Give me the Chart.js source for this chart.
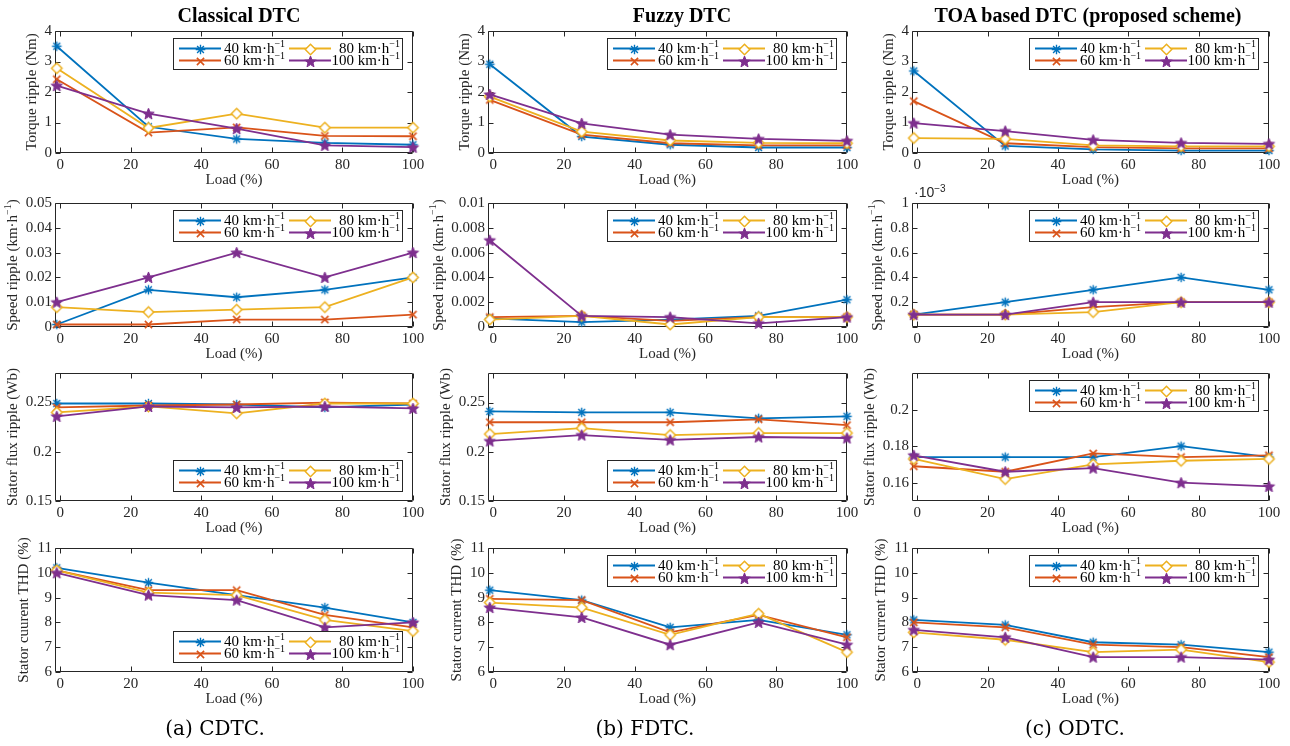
<!DOCTYPE html>
<html>
<head>
<meta charset="utf-8">
<script src="https://cdn.jsdelivr.net/npm/chart.js@4.4.1/dist/chart.umd.min.js"></script>
<style>
  html, body { margin: 0; padding: 0; background: #fff; }
  #wrap { position: relative; width: 1290px; height: 746px; overflow: hidden; background: #fff; }
  #wrap canvas { position: absolute; }
  .ttl { position: absolute; top: 4px; font: bold 20px "Liberation Serif", serif; color: #000; white-space: nowrap; transform: translateX(-50%); line-height: 22px; }
  .cap { position: absolute; top: 716px; font: 20px "DejaVu Serif", serif; color: #000; white-space: nowrap; transform: translateX(-50%); line-height: 24px; }
  .expo { position: absolute; left: 914px; top: 184px; font: 14px "Liberation Sans", sans-serif; color: #262626; white-space: nowrap; line-height: 16px; }
  .expo sup { font-size: 10px; vertical-align: 5px; line-height: 0; }
</style>
</head>
<body>
<div id="wrap"></div>
<script>
// Load levels (%) and vehicle speeds of the four test series
const loads = [-1, 25, 50, 75, 100];
const speedLabels = ['40', '60', '80', '100'];
const schemeTitles = ['Classical DTC', 'Fuzzy DTC', 'TOA based DTC (proposed scheme)'];
const captions = ['(a) CDTC.', '(b) FDTC.', '(c) ODTC.'];

// Torque ripple (Nm); one row per speed: 40, 60, 80, 100 km/h
const torqueCDTC = [[3.5, 0.86, 0.46, 0.33, 0.27], [2.42, 0.67, 0.84, 0.56, 0.55], [2.78, 0.82, 1.29, 0.83, 0.83], [2.21, 1.29, 0.8, 0.25, 0.19]];
const torqueFDTC = [[2.91, 0.54, 0.27, 0.18, 0.18], [1.74, 0.6, 0.32, 0.25, 0.25], [1.85, 0.7, 0.41, 0.33, 0.32], [1.92, 0.97, 0.6, 0.46, 0.4]];
const torqueODTC = [[2.69, 0.23, 0.12, 0.08, 0.08], [1.7, 0.32, 0.19, 0.15, 0.15], [0.49, 0.46, 0.25, 0.22, 0.22], [0.98, 0.72, 0.43, 0.33, 0.3]];

// Speed ripple (km/h)
const speedCDTC = [[0.001, 0.015, 0.012, 0.015, 0.02], [0.001, 0.001, 0.003, 0.003, 0.005], [0.008, 0.006, 0.007, 0.008, 0.02], [0.01, 0.02, 0.03, 0.02, 0.03]];
const speedFDTC = [[0.0007, 0.0004, 0.0006, 0.0009, 0.0022], [0.0008, 0.0009, 0.0005, 0.0008, 0.0008], [0.0006, 0.0009, 0.0002, 0.0008, 0.0008], [0.007, 0.0009, 0.0008, 0.0003, 0.0008]];
const speedODTC = [[0.0001, 0.0002, 0.0003, 0.0004, 0.0003], [0.0001, 0.0001, 0.00016, 0.0002, 0.0002], [0.0001, 0.0001, 0.00012, 0.0002, 0.0002], [0.0001, 0.0001, 0.0002, 0.0002, 0.0002]];

// Stator flux ripple (Wb)
const fluxCDTC = [[0.249, 0.249, 0.248, 0.245, 0.248], [0.245, 0.247, 0.248, 0.25, 0.249], [0.24, 0.246, 0.239, 0.249, 0.249], [0.236, 0.246, 0.245, 0.246, 0.244]];
const fluxFDTC = [[0.241, 0.24, 0.24, 0.234, 0.236], [0.23, 0.23, 0.23, 0.233, 0.227], [0.218, 0.224, 0.217, 0.219, 0.219], [0.211, 0.217, 0.212, 0.215, 0.214]];
const fluxODTC = [[0.174, 0.174, 0.174, 0.18, 0.174], [0.169, 0.166, 0.176, 0.174, 0.175], [0.173, 0.162, 0.17, 0.172, 0.173], [0.175, 0.166, 0.168, 0.16, 0.158]];

// Stator current THD (%)
const thdCDTC = [[10.2, 9.6, 9.1, 8.6, 8.0], [10.1, 9.3, 9.3, 8.3, 7.8], [10.1, 9.2, 9.1, 8.1, 7.65], [10.0, 9.1, 8.9, 7.8, 8.0]];
const thdFDTC = [[9.3, 8.9, 7.8, 8.1, 7.5], [8.95, 8.9, 7.6, 8.3, 7.4], [8.8, 8.6, 7.5, 8.35, 6.8], [8.6, 8.2, 7.1, 8.0, 7.1]];
const thdODTC = [[8.1, 7.9, 7.2, 7.1, 6.8], [8.0, 7.8, 7.1, 7.0, 6.6], [7.6, 7.3, 6.8, 6.9, 6.4], [7.7, 7.4, 6.6, 6.6, 6.5]];

// Tick values
const xTicks = [0, 20, 40, 60, 80, 100];
const torqueTicks = [0, 1, 2, 3, 4];
const speedTicksC = [0, 0.01, 0.02, 0.03, 0.04, 0.05];
const speedTicksF = [0, 0.002, 0.004, 0.006, 0.008, 0.01];
const speedTicksO = [0, 0.0002, 0.0004, 0.0006, 0.0008, 0.001];
const fluxTicksCF = [0.15, 0.2, 0.25];
const fluxTicksO = [0.16, 0.18, 0.2];
const thdTicks = [6, 7, 8, 9, 10, 11];

// ---------- styling ----------
const COLORS = ['#0072BD', '#D95319', '#EDB120', '#7E2F8E'];
const AXIS = '#262626';
const SERIF = '"Liberation Serif", "Times New Roman", serif';
const MAIN_FONT = '15px ' + SERIF;
const SUP_FONT = '10px ' + SERIF;

// Marker glyphs: asterisk, cross, open diamond, pentagram
function makeMarker(kind, color) {
  const c = document.createElement('canvas');
  c.width = 15; c.height = 15;
  const g = c.getContext('2d');
  const cx = 7.5, cy = 7.5;
  g.strokeStyle = color; g.fillStyle = color; g.lineCap = 'butt';
  g.beginPath();
  if (kind === 'asterisk') {
    g.lineWidth = 1.4;
    const r = 4.8;
    for (let k = 0; k < 4; k++) {
      const a = k * Math.PI / 4;
      g.moveTo(cx - r * Math.cos(a), cy - r * Math.sin(a));
      g.lineTo(cx + r * Math.cos(a), cy + r * Math.sin(a));
    }
    g.stroke();
  } else if (kind === 'cross') {
    g.lineWidth = 1.6;
    const r = 3.6;
    g.moveTo(cx - r, cy - r); g.lineTo(cx + r, cy + r);
    g.moveTo(cx - r, cy + r); g.lineTo(cx + r, cy - r);
    g.stroke();
  } else if (kind === 'diamond') {
    g.lineWidth = 1.5;
    const r = 5.2;
    g.moveTo(cx, cy - r); g.lineTo(cx + r, cy); g.lineTo(cx, cy + r); g.lineTo(cx - r, cy); g.closePath();
    g.fillStyle = '#fff'; g.fill();
    g.stroke();
  } else {
    g.lineWidth = 1;
    const ro = 6, ri = 2.6;
    for (let k = 0; k < 10; k++) {
      const r = k % 2 === 0 ? ro : ri;
      const a = -Math.PI / 2 + k * Math.PI / 5;
      const px = cx + r * Math.cos(a), py = cy + 0.5 + r * Math.sin(a);
      if (k === 0) g.moveTo(px, py); else g.lineTo(px, py);
    }
    g.closePath();
    g.fill(); g.stroke();
  }
  return c;
}
const MARKERS = [
  makeMarker('asterisk', COLORS[0]),
  makeMarker('cross', COLORS[1]),
  makeMarker('diamond', COLORS[2]),
  makeMarker('star', COLORS[3])
];

// Text with superscript pieces; parts = [[text, isSup], ...]
function richWidth(ctx, parts) {
  let w = 0;
  for (const [t, sup] of parts) { ctx.font = sup ? SUP_FONT : MAIN_FONT; w += ctx.measureText(t).width; }
  return w;
}
function drawRich(ctx, parts, x, y, align) {
  const total = richWidth(ctx, parts);
  let cx = align === 'center' ? x - total / 2 : (align === 'right' ? x - total : x);
  ctx.textAlign = 'left';
  ctx.textBaseline = 'middle';
  for (const [t, sup] of parts) {
    ctx.font = sup ? SUP_FONT : MAIN_FONT;
    ctx.fillText(t, cx, sup ? y - 5 : y);
    cx += ctx.measureText(t).width;
  }
}

function drawLegend(ctx, bx, by) {
  const W = 230, H = 32;
  ctx.save();
  ctx.fillStyle = '#fff';
  ctx.fillRect(bx, by, W, H);
  ctx.strokeStyle = AXIS; ctx.lineWidth = 1;
  ctx.strokeRect(bx + 0.5, by + 0.5, W - 1, H - 1);
  const slots = [[0, 0], [0, 1], [1, 0], [1, 1]];
  for (let i = 0; i < 4; i++) {
    const [col, row] = slots[i];
    const y = by + 10.5 + row * 12;
    const lx0 = col === 0 ? bx + 6 : bx + 116;
    const lx1 = lx0 + 42;
    ctx.strokeStyle = COLORS[i]; ctx.lineWidth = 1.8;
    ctx.beginPath(); ctx.moveTo(lx0, y); ctx.lineTo(lx1, y); ctx.stroke();
    ctx.drawImage(MARKERS[i], Math.round((lx0 + lx1) / 2) - 7, Math.round(y) - 7);
    ctx.fillStyle = '#000';
    const parts = [[speedLabels[i] + ' km\u00B7h', false], ['\u22121', true]];
    if (col === 0) drawRich(ctx, parts, bx + 51, y + 0.5, 'left');
    else drawRich(ctx, parts, bx + 227, y + 0.5, 'right');
  }
  ctx.restore();
}

// Axes frame, inward ticks on all four sides, axis titles and legend
const framePlugin = {
  id: 'frame',
  beforeDatasetsDraw(chart) {
    const { ctx, chartArea: a } = chart;
    const L = Math.round(a.left) + 0.5, R = Math.round(a.right) - 0.5;
    const T = Math.round(a.top) + 0.5, B = Math.round(a.bottom) - 0.5;
    ctx.save();
    ctx.strokeStyle = AXIS; ctx.lineWidth = 1;
    ctx.beginPath();
    ctx.rect(L, T, R - L, B - T);
    const tl = 5;
    for (const t of chart.scales.x.ticks) {
      const px = Math.round(chart.scales.x.getPixelForValue(t.value)) + 0.5;
      ctx.moveTo(px, B); ctx.lineTo(px, B - tl);
      ctx.moveTo(px, T); ctx.lineTo(px, T + tl);
    }
    for (const t of chart.scales.y.ticks) {
      const py = Math.round(chart.scales.y.getPixelForValue(t.value)) + 0.5;
      ctx.moveTo(L, py); ctx.lineTo(L + tl, py);
      ctx.moveTo(R, py); ctx.lineTo(R - tl, py);
    }
    ctx.stroke();
    ctx.restore();
  },
  afterDatasetsDraw(chart, args, opts) {
    const { ctx, chartArea: a } = chart;
    const bx = Math.round(a.right) - 10 - 230;
    const by = opts.legendAt === 'bottom' ? Math.round(a.bottom) - 9 - 32 : Math.round(a.top) + 7;
    drawLegend(ctx, bx, by);
  },
  afterDraw(chart, args, opts) {
    const { ctx, chartArea: a } = chart;
    ctx.save();
    ctx.fillStyle = AXIS;
    // width of the widest y tick label
    ctx.font = MAIN_FONT;
    let maxW = 0;
    for (const t of chart.scales.y.ticks) {
      const w = ctx.measureText(String(t.label)).width;
      if (w > maxW) maxW = w;
    }
    const tx = a.left - 3 - maxW - 5 - 7.5;
    ctx.translate(tx, (a.top + a.bottom) / 2);
    ctx.rotate(-Math.PI / 2);
    drawRich(ctx, opts.yTitle, 0, 0, 'center');
    ctx.restore();
    ctx.save();
    ctx.fillStyle = AXIS;
    drawRich(ctx, [['Load (%)', false]], (a.left + a.right) / 2, a.bottom + 27, 'center');
    ctx.restore();
  }
};

// ---------- layout ----------
const plotLeft = [55, 488, 912];
const plotRight = [413, 847, 1269];
const plotTop = [31, 203, 373, 548];
const plotBottom = [153, 327, 501, 672];
const YW = 62, PR = 16, PT = 22, XH = 42;

const plainFmt = v => String(parseFloat(Number(v).toPrecision(6)));
const milliFmt = v => (v === 0 ? '' : String(parseFloat((v * 1000).toPrecision(6))));

const rows = [
  { series: [torqueCDTC, torqueFDTC, torqueODTC], min: [0, 0, 0], max: [4, 4, 4], ticks: [torqueTicks, torqueTicks, torqueTicks],
    fmt: [plainFmt, plainFmt, plainFmt], legend: ['top', 'top', 'top'],
    title: [[['Torque ripple (Nm)', false]], [['Torque ripple (Nm)', false]], [['Torque ripple (Nm)', false]]] },
  { series: [speedCDTC, speedFDTC, speedODTC], min: [0, 0, 0], max: [0.05, 0.01, 0.001], ticks: [speedTicksC, speedTicksF, speedTicksO],
    fmt: [plainFmt, plainFmt, milliFmt], legend: ['top', 'top', 'top'],
    title: [0, 1, 2].map(() => [['Speed ripple (km\u00B7h', false], ['\u22121', true], [')', false]]) },
  { series: [fluxCDTC, fluxFDTC, fluxODTC], min: [0.15, 0.15, 0.15], max: [0.28, 0.28, 0.22], ticks: [fluxTicksCF, fluxTicksCF, fluxTicksO],
    fmt: [plainFmt, plainFmt, plainFmt], legend: ['bottom', 'bottom', 'top'],
    title: [0, 1, 2].map(() => [['Stator flux ripple (Wb)', false]]) },
  { series: [thdCDTC, thdFDTC, thdODTC], min: [6, 6, 6], max: [11, 11, 11], ticks: [thdTicks, thdTicks, thdTicks],
    fmt: [plainFmt, plainFmt, plainFmt], legend: ['bottom', 'top', 'top'],
    title: [[['Stator cuurent THD (%)', false]], [['Stator current THD (%)', false]], [['Stator current THD (%)', false]]] }
];

const wrap = document.getElementById('wrap');

rows.forEach((row, r) => {
  for (let c = 0; c < 3; c++) {
    const cv = document.createElement('canvas');
    const w = plotRight[c] - plotLeft[c] + YW + PR;
    const h = plotBottom[r] - plotTop[r] + PT + XH;
    cv.width = w; cv.height = h;
    cv.style.width = w + 'px'; cv.style.height = h + 'px';
    cv.style.left = (plotLeft[c] - YW) + 'px';
    cv.style.top = (plotTop[r] - PT) + 'px';
    wrap.appendChild(cv);

    const vals = row.series[c];
    const datasets = vals.map((ys, i) => ({
      label: speedLabels[i] + ' km/h',
      data: loads.map((x, k) => ({ x: x, y: ys[k] })),
      borderColor: COLORS[i],
      backgroundColor: COLORS[i],
      borderWidth: 1.8,
      pointStyle: MARKERS[i],
      pointRadius: 5,
      pointHoverRadius: 5,
      tension: 0,
      clip: false,
      order: 4 - i
    }));
    const tickVals = row.ticks[c];
    const fmt = row.fmt[c];

    new Chart(cv, {
      type: 'line',
      data: { datasets },
      plugins: [framePlugin],
      options: {
        responsive: false,
        animation: false,
        devicePixelRatio: 1,
        events: [],
        layout: { padding: { top: PT, right: PR, left: 0, bottom: 0 } },
        plugins: {
          legend: { display: false },
          tooltip: { enabled: false },
          frame: { legendAt: row.legend[c], yTitle: row.title[c] }
        },
        scales: {
          x: {
            type: 'linear', min: -1.5, max: 100,
            afterBuildTicks: s => { s.ticks = xTicks.map(v => ({ value: v })); },
            afterFit: s => { s.height = XH; },
            grid: { display: false, drawTicks: false },
            border: { display: false },
            ticks: { font: { family: SERIF, size: 15 }, color: AXIS, padding: 3, maxRotation: 0, autoSkip: false, callback: v => String(v) }
          },
          y: {
            type: 'linear', min: row.min[c], max: row.max[c],
            afterBuildTicks: s => { s.ticks = tickVals.map(v => ({ value: v })); },
            afterFit: s => { s.width = YW; },
            grid: { display: false, drawTicks: false },
            border: { display: false },
            ticks: { font: { family: SERIF, size: 15 }, color: AXIS, padding: 3, autoSkip: false, callback: fmt }
          }
        }
      }
    });
  }
});

// Column titles, sub-figure captions and the axis multiplier
const titleCenters = [239, 682, 1088];
schemeTitles.forEach((t, i) => {
  const d = document.createElement('div');
  d.className = 'ttl'; d.style.left = titleCenters[i] + 'px'; d.textContent = t;
  wrap.appendChild(d);
});
const captionCenters = [215, 645, 1075];
captions.forEach((t, i) => {
  const d = document.createElement('div');
  d.className = 'cap'; d.style.left = captionCenters[i] + 'px'; d.textContent = t;
  wrap.appendChild(d);
});
const ex = document.createElement('div');
ex.className = 'expo';
ex.innerHTML = '\u00B710<sup>\u22123</sup>';
wrap.appendChild(ex);
</script>
</body>
</html>
